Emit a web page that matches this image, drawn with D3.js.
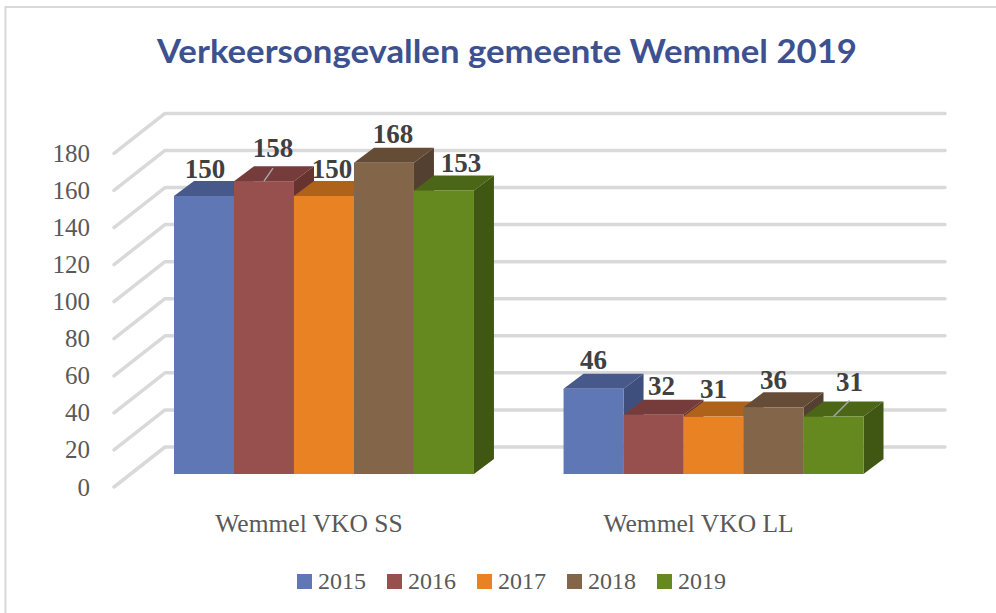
<!DOCTYPE html>
<html>
<head>
<meta charset="utf-8">
<style>
    html, body { margin: 0; padding: 0; background: #fff; }
    svg { display: block; }
</style>
<script src="https://cdnjs.cloudflare.com/ajax/libs/d3/7.8.5/d3.min.js"></script>
</head>
<body>
<div id="chart"></div>
<script>
const categories = ["Wemmel VKO SS", "Wemmel VKO LL"];
const years = ["2015", "2016", "2017", "2018", "2019"];
const values2015 = [150, 46];
const values2016 = [158, 32];
const values2017 = [150, 31];
const values2018 = [168, 36];
const values2019 = [153, 31];
const yTicks = [0, 20, 40, 60, 80, 100, 120, 140, 160, 180];

const seriesValues = [values2015, values2016, values2017, values2018, values2019];
const frontColors = ["#5f77b4", "#98504f", "#e88222", "#83654a", "#65881f"];
const topColors = ["#47598a", "#763c3c", "#ae621a", "#644c37", "#4c6617"];
const sideColors = ["#3f4f7d", "#66332f", "#985616", "#544030", "#3f5712"];

const width = 996, height = 613;
const serif = "'Liberation Serif', serif";

const svg = d3.select("#chart").append("svg")
    .attr("width", width)
    .attr("height", height);

// chart frame, only top and left are visible in the crop
svg.append("path")
    .attr("d", "M5.5,613V7H996")
    .attr("fill", "none")
    .attr("stroke", "#d9d9d9")
    .attr("stroke-width", 2);

svg.append("text")
    .attr("x", 507)
    .attr("y", 63)
    .attr("text-anchor", "middle")
    .attr("font-family", "Lato, sans-serif")
    .attr("font-weight", 700)
    .attr("font-size", 33)
    .attr("textLength", 700)
    .attr("lengthAdjust", "spacingAndGlyphs")
    .attr("fill", "#3d5191")
    .text("Verkeersongevallen gemeente Wemmel 2019");

// bars stand on this scale, walls are the same scale shifted
const y = d3.scaleLinear().domain([0, 180]).range([474, 140.4]);
const wallUp = 27, axisDown = 13;
const bar3d = { dx: 20, dy: 15 };

// gridlines: floor/side part then back wall
svg.append("g").selectAll("path")
    .data(yTicks)
    .join("path")
    .attr("d", d => {
        const back = y(d) - wallUp;
        return `M114,${back + 40}L165,${back}H945`;
    })
    .attr("fill", "none")
    .attr("stroke", "#d9d9d9")
    .attr("stroke-width", 3.5)
    .attr("stroke-linecap", "round")
    .attr("stroke-linejoin", "round");

// y axis labels
const yAxisScale = d3.scaleLinear().domain(y.domain()).range(y.range().map(r => r + axisDown));
const yAxis = svg.append("g")
    .attr("transform", "translate(90,0)")
    .call(d3.axisLeft(yAxisScale).tickValues(yTicks).tickSize(0).tickPadding(0));
yAxis.select(".domain").remove();
yAxis.selectAll("text")
    .attr("font-family", serif)
    .attr("font-size", 25)
    .attr("fill", "#595959");

// x axis labels, they sit left of the bar group because of the 3d floor
const x0 = d3.scaleBand().domain(categories).range([174, 863.5]).paddingInner(0.23).paddingOuter(0);
const x1 = d3.scaleBand().domain(years).range([0, x0.bandwidth()]);
const xAxis = svg.append("g")
    .attr("transform", "translate(-15,514)")
    .call(d3.axisBottom(x0).tickSize(0).tickPadding(0));
xAxis.select(".domain").remove();
xAxis.selectAll("text")
    .attr("font-family", serif)
    .attr("font-size", 25.5)
    .attr("fill", "#595959");

// bars, left to right so each one overlaps the side of the one before
categories.forEach((cat, c) => {
    years.forEach((yr, s) => {
        const v = seriesValues[s][c];
        const bx = x0(cat) + x1(yr), bw = x1.bandwidth();
        const by = y(v), base = y(0);
        const g = svg.append("g");
        g.append("path")
            .attr("d", `M${bx},${by}l${bar3d.dx},${-bar3d.dy}h${bw}l${-bar3d.dx},${bar3d.dy}Z`)
            .attr("fill", topColors[s]);
        g.append("path")
            .attr("d", `M${bx + bw},${by}l${bar3d.dx},${-bar3d.dy}V${base - bar3d.dy}l${-bar3d.dx},${bar3d.dy}Z`)
            .attr("fill", sideColors[s]);
        g.append("rect")
            .attr("x", bx)
            .attr("y", by)
            .attr("width", bw)
            .attr("height", base - by)
            .attr("fill", frontColors[s]);
    });
});

// data labels were dragged around by hand in the original
const labelNudge = [
    [[1, -18], [9, -24], [8, -18], [9, -20], [17, -18]],
    [[0, -20], [8, -20], [0, -19], [0, -18], [16, -26]]
];
categories.forEach((cat, c) => {
    years.forEach((yr, s) => {
        const v = seriesValues[s][c];
        const cx = x0(cat) + x1(yr) + x1.bandwidth() / 2;
        svg.append("text")
            .attr("x", cx + labelNudge[c][s][0])
            .attr("y", y(v) + labelNudge[c][s][1])
            .attr("text-anchor", "middle")
            .attr("font-family", serif)
            .attr("font-weight", 700)
            .attr("font-size", 27)
            .attr("fill", "#404040")
            .text(v);
    });
});

// leader lines for the two labels moved furthest
[[0, 1, 9, 13], [1, 4, 16, 16]].forEach(([c, s, lx, ly]) => {
    const cx = x0(categories[c]) + x1(years[s]) + x1.bandwidth() / 2;
    const ty = y(seriesValues[s][c]);
    svg.append("line")
        .attr("x1", cx)
        .attr("y1", ty)
        .attr("x2", cx + lx)
        .attr("y2", ty - ly)
        .attr("stroke", "#a6a6a6")
        .attr("stroke-width", 1.5);
});

// legend
const legendX = d3.scalePoint().domain(years).range([297, 657]);
const legend = svg.append("g").selectAll("g")
    .data(years)
    .join("g")
    .attr("transform", d => `translate(${legendX(d)},574)`);
legend.append("rect")
    .attr("width", 15)
    .attr("height", 15)
    .attr("fill", (d, i) => frontColors[i]);
legend.append("text")
    .attr("x", 21)
    .attr("y", 15)
    .attr("font-family", serif)
    .attr("font-size", 24)
    .attr("fill", "#595959")
    .text(d => d);
</script>
</body>
</html>
